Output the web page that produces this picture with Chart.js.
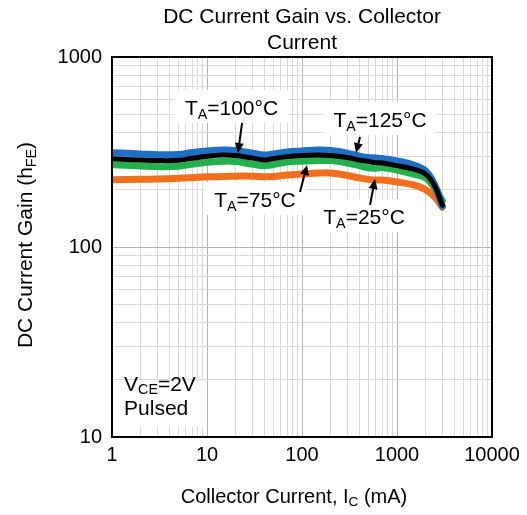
<!DOCTYPE html>
<html>
<head>
<meta charset="utf-8">
<script src="https://cdn.jsdelivr.net/npm/chart.js@4"></script>
<style>
html,body{margin:0;padding:0;background:#fff;}
canvas{display:block;}
</style>
</head>
<body>
<canvas id="c" width="527" height="515"></canvas>
<script>
// ---- data ----
const currentMA = [1,2,3,5,7,10,15,20,30,40,50,70,100,150,200,300,400,500,600,700,1000,1500,2000,2500,3000];
const gain125 = [313,309,306,307,314,320,324,322,312,305,309,316,320,324,322,312,301,296,294,292,284,270,251,212,164];
const gain100 = [291,287,285,286,293,300,305,303,294,287,292,299,303,305,303,296,287,282,278,277,268,257,242,209,166];
const gain75  = [271,267,265,266,273,279,283,282,273,268,272,280,283,285,285,277,268,261,260,262,254,242,231,204,175];
const gain25  = [226,227,228,230,232,234,235,236,236,234,235,239,242,245,245,238,231,227,225,225,220,212,200,183,162];
const xTickLabels = [1,10,100,1000,10000];
const yTickLabels = [10,100,1000];
const xGridValues = [1,2,3,4,5,6,7,8,9,10,20,30,40,50,60,70,80,90,100,200,300,400,500,600,700,800,900,1000,2000,3000,4000,5000,6000,7000,8000,9000,10000];
const yGridValues = [10,20,30,40,50,60,70,80,90,100,200,300,400,500,600,700,800,900,1000];

const FONT = "'Liberation Sans', Arial, Helvetica, sans-serif";

// annotations in data coordinates
const labels = [
  {parts:[{t:'T'},{t:'A',sub:true},{t:'=100°C'}], x:18.1, y:495, tail:[23.4,450], tip:[21.2,312]},
  {parts:[{t:'T'},{t:'A',sub:true},{t:'=125°C'}], x:662, y:428, tail:[408,379], tip:[370,312]},
  {parts:[{t:'T'},{t:'A',sub:true},{t:'=75°C'}], x:32, y:162.3, tail:[95.3,194.6], tip:[113,270]},
  {parts:[{t:'T'},{t:'A',sub:true},{t:'=25°C'}], x:450, y:132, tail:[520,166.4], tip:[587,228]}
];

function isPow10(v){ const l = Math.log10(v); return Math.abs(l - Math.round(l)) < 1e-9; }

function drawRich(ctx, parts, x, y, size, align){
  const subSize = size*0.68;
  let w = 0;
  parts.forEach(p => { ctx.font = (p.sub?subSize:size)+'px '+FONT; p.w = ctx.measureText(p.t).width; w += p.w; });
  let cx = align==='center' ? x - w/2 : (align==='right' ? x - w : x);
  const start = cx;
  ctx.textAlign='left'; ctx.textBaseline='alphabetic'; ctx.fillStyle='#000';
  parts.forEach(p => { ctx.font = (p.sub?subSize:size)+'px '+FONT; ctx.fillText(p.t, cx, p.sub ? y + size*0.17 : y); cx += p.w; });
  return {left:start, width:w};
}

function arrow(ctx, x1, y1, x2, y2){
  const ang = Math.atan2(y2-y1, x2-x1);
  const hl = 10, hw = 4.5;
  const bx = x2 - hl*Math.cos(ang), by = y2 - hl*Math.sin(ang);
  ctx.strokeStyle='#000'; ctx.lineWidth=2;
  ctx.beginPath(); ctx.moveTo(x1,y1); ctx.lineTo(bx,by); ctx.stroke();
  ctx.fillStyle='#000';
  ctx.beginPath();
  ctx.moveTo(x2,y2);
  ctx.lineTo(bx + hw*Math.sin(ang), by - hw*Math.cos(ang));
  ctx.lineTo(bx - hw*Math.sin(ang), by + hw*Math.cos(ang));
  ctx.closePath(); ctx.fill();
}

const decor = {
  id:'decor',
  afterDatasetsDraw(chart){
    const ctx = chart.ctx, xs = chart.scales.x, ys = chart.scales.y, a = chart.chartArea;
    ctx.save();
    // annotation labels
    labels.forEach(l => {
      const px = xs.getPixelForValue(l.x), py = ys.getPixelForValue(l.y);
      // measure
      let w = 0;
      l.parts.forEach(p => { ctx.font = (p.sub?21*0.68:21)+'px '+FONT; w += ctx.measureText(p.t).width; });
      ctx.fillStyle='#fff';
      ctx.fillRect(px - w/2 - 10, py - 25, w + 20, 33);
      drawRich(ctx, l.parts, px, py, 21, 'center');
      arrow(ctx, xs.getPixelForValue(l.tail[0]), ys.getPixelForValue(l.tail[1]), xs.getPixelForValue(l.tip[0]), ys.getPixelForValue(l.tip[1]));
    });
    // conditions box
    const bx0 = a.left + 1, bx1 = xs.getPixelForValue(9.1);
    const by0 = ys.getPixelForValue(19.6), by1 = ys.getPixelForValue(11.3);
    ctx.fillStyle='#fff'; ctx.fillRect(bx0, by0, bx1-bx0, by1-by0);
    const tx = xs.getPixelForValue(1.34);
    drawRich(ctx, [{t:'V'},{t:'CE',sub:true},{t:'=2V'}], tx, ys.getPixelForValue(17.5), 21, 'left');
    drawRich(ctx, [{t:'Pulsed'}], tx, ys.getPixelForValue(13.1), 21, 'left');
    ctx.restore();
  },
  afterDraw(chart){
    const ctx = chart.ctx, a = chart.chartArea;
    ctx.save();
    ctx.strokeStyle='#000'; ctx.lineWidth=2;
    ctx.strokeRect(a.left, a.top, a.right-a.left, a.bottom-a.top);
    // title
    ctx.fillStyle='#000'; ctx.textAlign='center'; ctx.textBaseline='alphabetic';
    ctx.font = '21px '+FONT;
    const cx = (a.left + a.right)/2;
    ctx.fillText('DC Current Gain vs. Collector', cx, 23);
    ctx.fillText('Current', cx, 49);
    // x title
    drawRich(ctx, [{t:'Collector Current, I'},{t:'C',sub:true},{t:' (mA)'}], 294, 503, 20, 'center');
    // y title
    ctx.translate(32, 245);
    ctx.rotate(-Math.PI/2);
    drawRich(ctx, [{t:'DC Current Gain (h'},{t:'FE',sub:true},{t:')'}], 0, 0, 21, 'center');
    ctx.restore();
  }
};

const lineDs = (label, data, color, width) => ({
  label, data: currentMA.map((x,i)=>({x, y:data[i]})),
  borderColor: color, backgroundColor: color, borderWidth: width,
  pointRadius: 0, tension: 0.4, fill:false, borderCapStyle:'round', borderJoinStyle:'round'
});

new Chart(document.getElementById('c'), {
  type:'line',
  data:{
    datasets:[
      lineDs('TA=100°C', gain100, '#000000', 5),
      lineDs('TA=125°C', gain125, '#1f70c4', 7),
      lineDs('TA=75°C', gain75, '#22b14c', 7),
      lineDs('TA=25°C', gain25, '#f0701e', 7)
    ]
  },
  options:{
    responsive:false, animation:false, devicePixelRatio:1,
    layout:{padding:{left:0, right:35, top:57, bottom:0}},
    plugins:{legend:{display:false}, tooltip:{enabled:false}, title:{display:false}},
    scales:{
      x:{
        type:'logarithmic', min:1, max:10000,
        afterBuildTicks: s => { s.ticks = xGridValues.map(v => ({value:v, major:isPow10(v)})); },
        afterFit: s => { s.height = 78; },
        ticks:{autoSkip:false, maxRotation:0, minRotation:0, padding:6, color:'#000',
          font:{family:FONT, size:20},
          callback: v => xTickLabels.includes(v) ? String(v) : ''},
        grid:{drawTicks:false, lineWidth:1, color: c => (c.tick && isPow10(c.tick.value)) ? '#b3b3b3' : '#d9d9d9'},
        border:{display:false}
      },
      y:{
        type:'logarithmic', min:10, max:1000,
        afterBuildTicks: s => { s.ticks = yGridValues.map(v => ({value:v, major:isPow10(v)})); },
        afterFit: s => { s.width = 112; },
        ticks:{autoSkip:false, padding:10, color:'#000',
          font:{family:FONT, size:20},
          callback: v => yTickLabels.includes(v) ? String(v) : ''},
        grid:{drawTicks:false, lineWidth:1, color: c => (c.tick && isPow10(c.tick.value)) ? '#b3b3b3' : '#d9d9d9'},
        border:{display:false}
      }
    }
  },
  plugins:[decor]
});
</script>
</body>
</html>
